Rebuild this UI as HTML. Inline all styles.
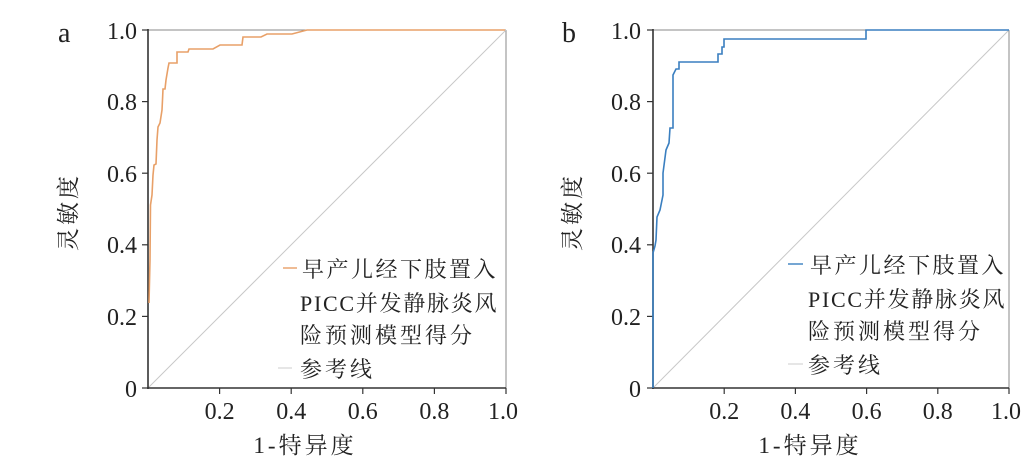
<!DOCTYPE html>
<html><head><meta charset="utf-8"><style>
html,body{margin:0;padding:0;background:#fff;}
svg{display:block;}
text{font-family:"Liberation Serif","Noto Serif CJK SC",serif;fill:#222;}
.cj{font-family:"Liberation Serif","Noto Serif CJK SC",serif;letter-spacing:3px;}
</style></head><body>
<svg width="1035" height="469" viewBox="0 0 1035 469" xmlns="http://www.w3.org/2000/svg">
<!-- Panel a -->
<g>
<text x="58" y="42" font-size="28">a</text>
<line x1="148" y1="30" x2="506" y2="30" stroke="#888" stroke-width="1"/>
<line x1="506" y1="30" x2="506" y2="388" stroke="#888" stroke-width="1"/>
<line x1="148" y1="388" x2="506" y2="30" stroke="#c8c8c8" stroke-width="1"/>
<line x1="148" y1="29" x2="148" y2="389" stroke="#333" stroke-width="1.6"/>
<line x1="147" y1="388" x2="506" y2="388" stroke="#333" stroke-width="1.6"/>
<g stroke="#333" stroke-width="1.2">
<line x1="142" y1="30" x2="148" y2="30"/><line x1="142" y1="101.6" x2="148" y2="101.6"/><line x1="142" y1="173.2" x2="148" y2="173.2"/><line x1="142" y1="244.8" x2="148" y2="244.8"/><line x1="142" y1="316.4" x2="148" y2="316.4"/><line x1="142" y1="388" x2="148" y2="388"/>
<line x1="219.6" y1="388" x2="219.6" y2="394"/><line x1="291.2" y1="388" x2="291.2" y2="394"/><line x1="362.8" y1="388" x2="362.8" y2="394"/><line x1="434.4" y1="388" x2="434.4" y2="394"/><line x1="506" y1="388" x2="506" y2="394"/>
</g>
<g font-size="24" text-anchor="end">
<text x="137" y="39">1.0</text><text x="137" y="110">0.8</text><text x="137" y="182">0.6</text><text x="137" y="253">0.4</text><text x="137" y="325">0.2</text><text x="137" y="397">0</text>
</g>
<g font-size="24" text-anchor="middle">
<text x="219.6" y="419">0.2</text><text x="291.2" y="419">0.4</text><text x="362.8" y="419">0.6</text><text x="434.4" y="419">0.8</text><text x="503" y="419">1.0</text>
</g>
<text x="305" y="453" font-size="23" text-anchor="middle" class="cj">1-特异度</text>
<text transform="translate(76,212) rotate(-90)" font-size="23" text-anchor="middle" class="cj">灵敏度</text>
<polyline fill="none" stroke="#e8a068" stroke-width="1.6" points="149,303 150,260 150.5,205 152,195 153,175 154,165 156,164 157,140 158,127 160,123 162,110 162.5,100 163,89 165,89 166,80 168,68 169,63 177,63 177,52 188,52 189,49 213,49 220,45 242,45 243,37 261,37 267,34 292,34 307,30 505,30"/>
<line x1="283" y1="268" x2="297" y2="268" stroke="#e8a068" stroke-width="1.4"/>
<line x1="278" y1="368" x2="292" y2="368" stroke="#ccc" stroke-width="1"/>
<g font-size="22" class="cj">
<text x="302" y="277" letter-spacing="2.5">早产儿经下肢置入</text>
<text x="300" y="311" letter-spacing="0.5" textLength="197">PICC并发静脉炎风</text>
<text x="300" y="343" letter-spacing="3">险预测模型得分</text>
<text x="300" y="377" letter-spacing="3">参考线</text>
</g>
</g>
<!-- Panel b -->
<g>
<text x="562" y="42" font-size="28">b</text>
<line x1="653" y1="30" x2="1009" y2="30" stroke="#888" stroke-width="1"/>
<line x1="1009" y1="30" x2="1009" y2="388" stroke="#888" stroke-width="1"/>
<line x1="653" y1="388" x2="1009" y2="30" stroke="#c8c8c8" stroke-width="1"/>
<line x1="653" y1="29" x2="653" y2="389" stroke="#333" stroke-width="1.6"/>
<line x1="652" y1="388" x2="1009" y2="388" stroke="#333" stroke-width="1.6"/>
<g stroke="#333" stroke-width="1.2">
<line x1="647" y1="30" x2="653" y2="30"/><line x1="647" y1="101.6" x2="653" y2="101.6"/><line x1="647" y1="173.2" x2="653" y2="173.2"/><line x1="647" y1="244.8" x2="653" y2="244.8"/><line x1="647" y1="316.4" x2="653" y2="316.4"/><line x1="647" y1="388" x2="653" y2="388"/>
<line x1="724.2" y1="388" x2="724.2" y2="394"/><line x1="795.4" y1="388" x2="795.4" y2="394"/><line x1="866.6" y1="388" x2="866.6" y2="394"/><line x1="937.8" y1="388" x2="937.8" y2="394"/><line x1="1009" y1="388" x2="1009" y2="394"/>
</g>
<g font-size="24" text-anchor="end">
<text x="641" y="39">1.0</text><text x="641" y="110">0.8</text><text x="641" y="182">0.6</text><text x="641" y="253">0.4</text><text x="641" y="325">0.2</text><text x="641" y="397">0</text>
</g>
<g font-size="24" text-anchor="middle">
<text x="724.2" y="419">0.2</text><text x="795.4" y="419">0.4</text><text x="866.6" y="419">0.6</text><text x="937.8" y="419">0.8</text><text x="1006" y="419">1.0</text>
</g>
<text x="810" y="453" font-size="23" text-anchor="middle" class="cj">1-特异度</text>
<text transform="translate(580,212) rotate(-90)" font-size="23" text-anchor="middle" class="cj">灵敏度</text>
<polyline fill="none" stroke="#3a7fc0" stroke-width="1.6" points="653,388 653,253 655,246 656,240 657,217 660,210 663,195 663,173 666,150 669,143 670,128 673,128 673,75 676,69 679,69 679,62 718,62 718,54 722,54 722,47 724,47 724,39 866,39 866,30 1009,30"/>
<line x1="788" y1="264" x2="803" y2="264" stroke="#3a7fc0" stroke-width="1.4"/>
<line x1="788" y1="364" x2="803" y2="364" stroke="#ccc" stroke-width="1"/>
<g font-size="22" class="cj">
<text x="810" y="273" letter-spacing="2.5">早产儿经下肢置入</text>
<text x="808" y="307" letter-spacing="0.5" textLength="197">PICC并发静脉炎风</text>
<text x="808" y="339" letter-spacing="3">险预测模型得分</text>
<text x="808" y="373" letter-spacing="3">参考线</text>
</g>
</g>
</svg>
</body></html>
